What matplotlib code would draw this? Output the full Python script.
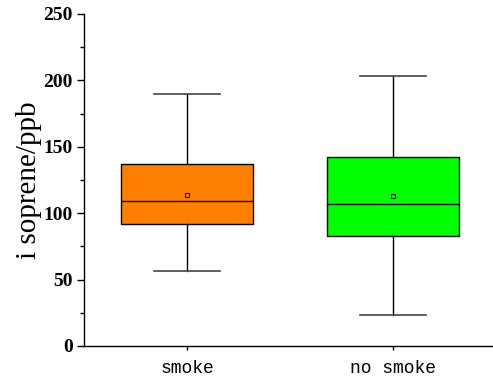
import matplotlib
matplotlib.use("Agg")
import matplotlib.pyplot as plt
from matplotlib.ticker import MultipleLocator

# values
groups = ["smoke", "no smoke"]
whisker_low = [56.5, 23.6]
q1 = [91.9, 82.8]
median = [109.4, 106.7]
q3 = [136.8, 142.1]
whisker_high = [189.8, 203.0]
mean = [113.9, 113.0]
colors = ["#FF8000", "#00FF00"]

stats = []
for i, name in enumerate(groups):
    stats.append({
        "label": name,
        "whislo": whisker_low[i],
        "q1": q1[i],
        "med": median[i],
        "q3": q3[i],
        "whishi": whisker_high[i],
        "mean": mean[i],
        "fliers": [],
    })

fig = plt.figure(figsize=(4.93, 3.79), dpi=100)
ax = fig.add_axes([84 / 493, 33 / 379, 409 / 493, 332 / 379])

bp = ax.bxp(
    stats,
    positions=[1, 2],
    widths=0.64,
    patch_artist=True,
    showmeans=True,
    boxprops=dict(linewidth=1.0, edgecolor="black"),
    medianprops=dict(color="black", linewidth=1.0),
    whiskerprops=dict(color="black", linewidth=1.0),
    capprops=dict(color="#444444", linewidth=1.2),
    capwidths=0.32,
    meanprops=dict(marker="s", markersize=3.5, markerfacecolor="none",
                   markeredgecolor="black", markeredgewidth=0.8),
)
for patch, c in zip(bp["boxes"], colors):
    patch.set_facecolor(c)

ax.set_xlim(0.5, 2.485)
ax.set_ylim(0, 250)
ax.yaxis.set_major_locator(MultipleLocator(50))
ax.yaxis.set_minor_locator(MultipleLocator(25))

ax.spines["top"].set_visible(False)
ax.spines["right"].set_visible(False)
for s in ("left", "bottom"):
    ax.spines[s].set_linewidth(1.0)

ax.tick_params(axis="y", which="major", direction="out", length=5, width=1, pad=3)
ax.tick_params(axis="y", which="minor", direction="out", length=3, width=1)
ax.tick_params(axis="x", direction="out", length=3, width=1, pad=7)

for lab in ax.get_yticklabels():
    lab.set_fontfamily("Liberation Serif")
    lab.set_fontweight("bold")
    lab.set_fontsize(14)
ax.set_xticks([1, 2])
ax.set_xticklabels(groups, fontfamily="Liberation Mono", fontsize=13)

ax.set_ylabel("i soprene/ppb", fontfamily="Liberation Serif", fontsize=21, labelpad=1)

fig.savefig("out.png", dpi=100)
